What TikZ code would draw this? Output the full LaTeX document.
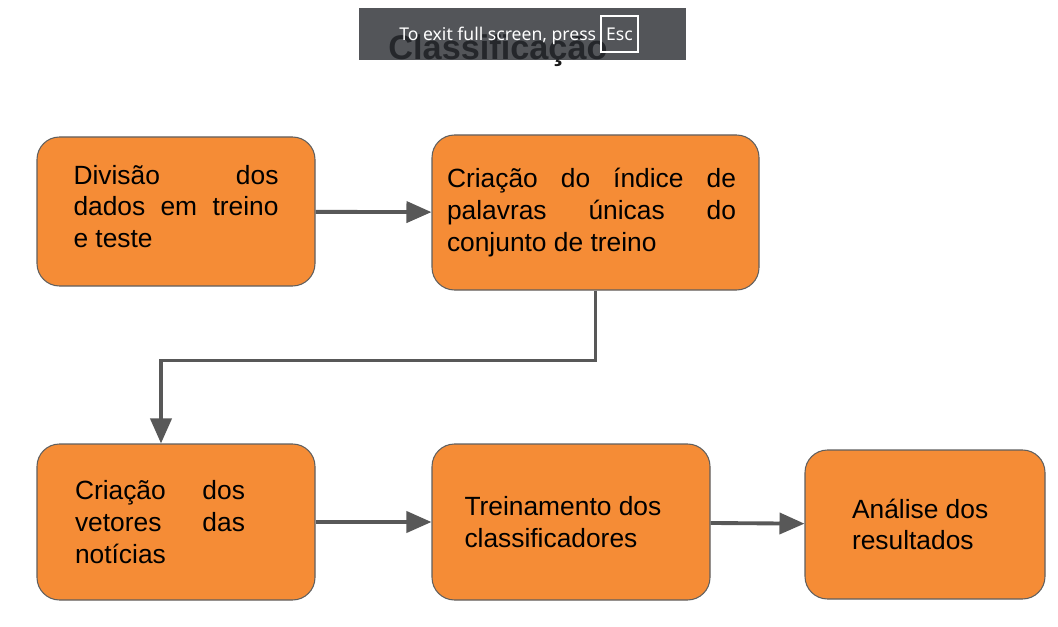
\documentclass[tikz,border=0pt]{standalone}
\usepackage{fontspec}
\setmainfont{Liberation Sans}
\newfontfamily\barfont{Noto Sans}
\usetikzlibrary{arrows.meta,positioning}
\definecolor{boxorange}{RGB}{245,140,54}
\definecolor{boxline}{RGB}{95,95,95}
\definecolor{arrowgray}{RGB}{88,88,88}
\definecolor{bargray}{RGB}{40,43,48}
\hyphenpenalty=10000
\exhyphenpenalty=10000

\begin{document}
\begin{tikzpicture}[
    stepbox/.style={draw=boxline, line width=0.6pt, fill=boxorange, rounded corners=0.45cm,
      font=\fontsize{15}{18.1}\selectfont, inner sep=0pt},
    flow/.style={draw=arrowgray, line width=2.2pt, -{Triangle[length=0.5cm,width=0.42cm]}}
  ]
    \useasboundingbox (0,0) rectangle (21.16,12.52);

    % draw title
    \node[font=\fontsize{19.5}{22}\selectfont\bfseries, text=black!90, anchor=base] (title) at (9.96,11.32) {Classificação};

    % draw boxes
    \node[stepbox, minimum width=5.56cm, minimum height=2.98cm] (divisao) at (3.52,8.29)
      {\raisebox{0.1cm}[\height][\depth]{\parbox{4.1cm}{Divisão dos dados em treino e teste}}};
    \node[stepbox, minimum width=6.54cm, minimum height=3.1cm] (indice) at (11.91,8.27)
      {\parbox{5.78cm}{Criação do índice de palavras únicas do conjunto de treino}\kern0.16cm};
    \node[stepbox, minimum width=5.56cm, minimum height=3.12cm] (vetores) at (3.52,2.08)
      {\parbox{3.4cm}{Criação dos vetores das notícias}\kern0.64cm};
    \node[stepbox, minimum width=5.56cm, minimum height=3.12cm] (treino) at (11.42,2.08)
      {\parbox{4.26cm}{\raggedright Treinamento dos\\classificadores}};
    \node[stepbox, minimum width=4.8cm, minimum height=2.98cm] (analise) at (18.5,2.03)
      {\parbox{2.92cm}{\raggedright Análise dos\\resultados}};

    % draw arrows
    \draw[flow] (divisao) -- (indice);
    \draw[flow] (indice.south) -- ++(0,-1.4) -| ([xshift=-0.3cm]vetores.north);
    \draw[flow] (vetores) -- (treino);
    \draw[flow] (treino) -- (analise);

    % draw full screen bar
    \fill[bargray, opacity=0.8] (7.18,11.32) rectangle (13.72,12.36);
    \node[font=\barfont\fontsize{10}{12}\selectfont, text=white, anchor=base west, inner sep=0pt] (exitmsg) at (7.98,11.7)
      {To exit full screen, press};
    \node[font=\barfont\fontsize{10}{12}\selectfont, text=white, draw=white, line width=0.6pt,
      minimum width=0.74cm, minimum height=0.72cm, inner sep=0pt] (esc) at (12.39,11.84) {Esc};
\end{tikzpicture}
\end{document}
